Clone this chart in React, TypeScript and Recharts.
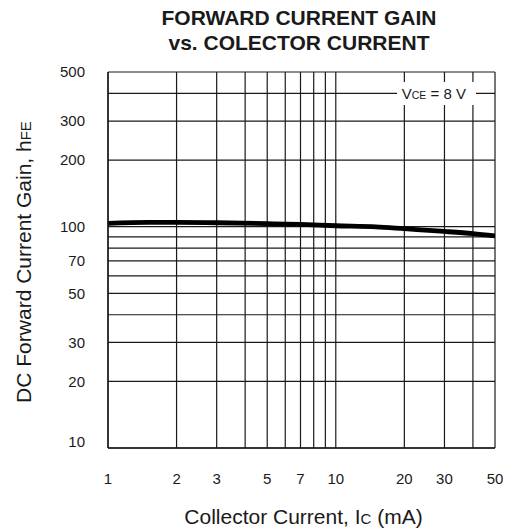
import { LineChart, Line, XAxis, YAxis, CartesianGrid } from "recharts";

// collector current Ic (mA) and DC forward current gain hFE
const current = [1, 1.5, 2, 3, 5, 7, 10, 15, 20, 30, 40, 50];
const gain = [103.4, 104.6, 104.6, 104.2, 103.2, 102.4, 101.0, 99.8, 97.9, 95.2, 93.0, 90.8];

const xTicks = [1, 2, 3, 4, 5, 6, 7, 8, 9, 10, 20, 30, 40, 50];
const xLabels = [1, 2, 3, 5, 7, 10, 20, 30, 50];
const yTicks = [10, 20, 30, 40, 50, 60, 70, 80, 90, 100, 200, 300, 400, 500];
const yLabels = [10, 20, 30, 50, 70, 100, 200, 300, 500];

const data = current.map((ic, i) => ({ ic, hfe: gain[i] }));

const font = "'Liberation Sans', Arial, Helvetica, sans-serif";
const ink = "#1a1a1a";

const XTick = (props: any) => {
  const { x, y, payload } = props;
  if (!xLabels.includes(payload.value)) return <g />;
  return (
    <text x={x} y={y} dy="0.71em" textAnchor="middle" fontSize={15} fill={ink} fontFamily={font}>
      {payload.value}
    </text>
  );
};

const YTick = (props: any) => {
  const { x, y, payload } = props;
  if (!yLabels.includes(payload.value)) return <g />;
  return (
    <text
      x={x}
      y={payload.value === 10 ? y - 6 : y}
      dy="0.36em"
      textAnchor="end"
      fontSize={15}
      fill={ink}
      fontFamily={font}
    >
      {payload.value}
    </text>
  );
};

export default function App() {
  return (
    <div style={{ position: "relative", width: 503, height: 523 }}>
      <LineChart
        width={503}
        height={523}
        data={data}
        margin={{ top: 64, right: 16, bottom: 43, left: 40 }}
      >
        <CartesianGrid stroke={ink} strokeWidth={1.2} />
        <XAxis
          dataKey="ic"
          type="number"
          scale="log"
          domain={[1, 50]}
          allowDataOverflow
          ticks={xTicks}
          interval={0}
          height={40}
          tickLine={false}
          tickSize={0}
          tickMargin={25}
          tick={<XTick />}
          axisLine={{ stroke: ink, strokeWidth: 1.4 }}
        />
        <YAxis
          type="number"
          scale="log"
          domain={[10, 500]}
          allowDataOverflow
          ticks={yTicks}
          interval={0}
          width={60}
          tickLine={false}
          tickSize={0}
          tickMargin={23}
          tick={<YTick />}
          axisLine={{ stroke: ink, strokeWidth: 1.4 }}
        />
        <Line
          type="monotone"
          dataKey="hfe"
          stroke="#000"
          strokeWidth={4.8}
          dot={false}
          isAnimationActive={false}
        />
      </LineChart>
      <svg
        width={503}
        height={523}
        style={{ position: "absolute", left: 0, top: 0, pointerEvents: "none", overflow: "visible" }}
        fontFamily={font}
      >
        <text x={291} y={17} textAnchor="middle" fontSize={21} fontWeight="bold" fill={ink}>
          FORWARD CURRENT GAIN
        </text>
        <text x={291} y={42} textAnchor="middle" fontSize={21} fontWeight="bold" fill={ink}>
          vs. COLECTOR CURRENT
        </text>
        <rect x={389} y={74} width={79} height={23} fill="#fff" />
        <text x={393.7} y={90.7} fontSize={15} fill={ink}>
          V<tspan fontSize={10.5}>CE</tspan> = 8 V
        </text>
        <text x={295.5} y={516} textAnchor="middle" fontSize={21} fill={ink}>
          Collector Current, I<tspan fontSize={15}>C</tspan> (mA)
        </text>
        <text
          transform="translate(23, 254) rotate(-90)"
          textAnchor="middle"
          fontSize={21}
          fill={ink}
        >
          DC Forward Current Gain, h<tspan fontSize={15}>FE</tspan>
        </text>
      </svg>
    </div>
  );
}
